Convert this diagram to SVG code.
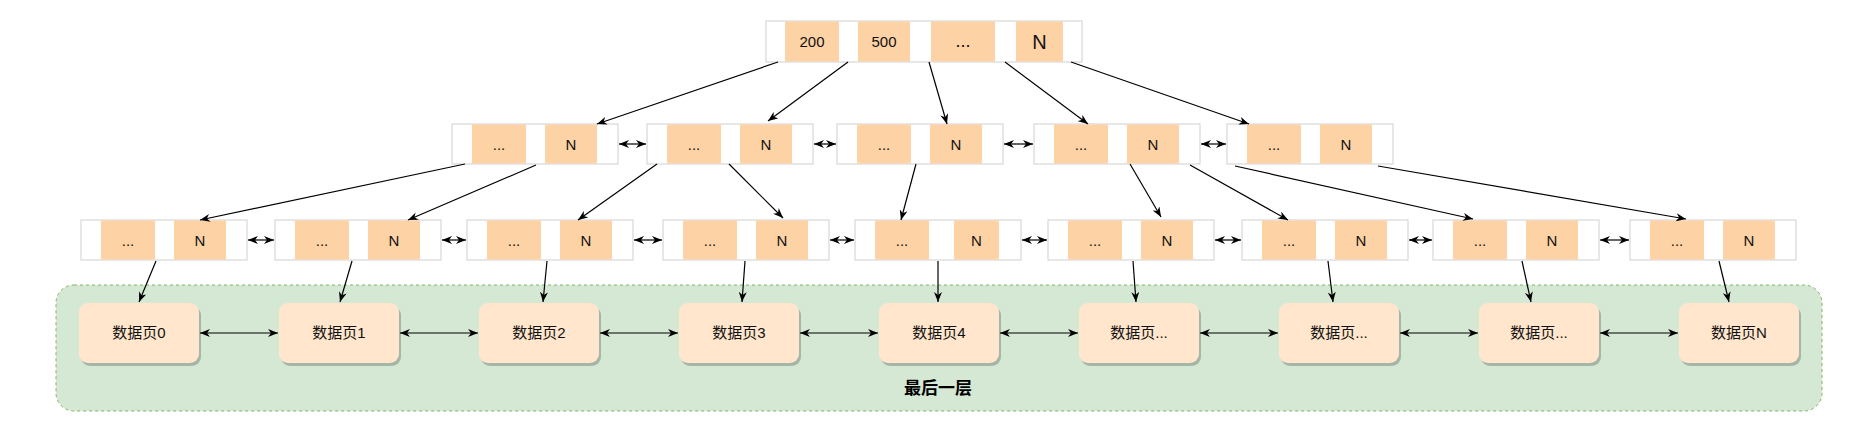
<svg xmlns="http://www.w3.org/2000/svg" width="1861" height="447" viewBox="0 0 1861 447">
<style>
.box{fill:#ffffff;stroke:#cfcfcf;stroke-width:1}
.cell{fill:#fdd2a4;stroke:none}
.t{font-family:"Liberation Sans","Noto Sans CJK SC",sans-serif;font-size:15px;fill:#111;text-anchor:middle}
.big{font-size:20px}
.dots{font-size:18px}
.page{fill:#ffe6cc;stroke:none}
.shadow{fill:#000;opacity:0.22}
.c{fill:none;stroke:#000;stroke-width:1.2}
.one{marker-end:url(#ah)}
.two{marker-start:url(#ah);marker-end:url(#ah)}
.lbl{font-family:"Liberation Sans","Noto Sans CJK SC",sans-serif;font-size:17px;font-weight:bold;fill:#000;text-anchor:middle}
</style>
<defs>
<marker id="ah" viewBox="0 0 10 8" refX="10" refY="4" markerWidth="10" markerHeight="8" markerUnits="userSpaceOnUse" orient="auto-start-reverse">
<path d="M0,0 L10,4 L0,8 L3,4 z" fill="#000"/>
</marker>
</defs>
<rect width="1861" height="447" fill="#ffffff"/>

<g id="container">
<rect x="56" y="285" width="1766" height="126" rx="18" fill="#d5e8d4" stroke="#82b366" stroke-width="1" stroke-dasharray="3 3"/>
<text class="lbl" x="938" y="394">最后一层</text>
</g>

<g id="root">
<rect class="box" x="766" y="21" width="316" height="41"/>
<rect class="cell" x="785" y="21.5" width="54" height="40"/>
<rect class="cell" x="858" y="21.5" width="52" height="40"/>
<rect class="cell" x="931" y="21.5" width="64" height="40"/>
<rect class="cell" x="1016" y="21.5" width="47" height="40"/>
<text class="t" x="812" y="47">200</text>
<text class="t" x="884" y="47">500</text>
<text class="t dots" x="963" y="47">...</text>
<text class="t big" x="1039.5" y="48.5">N</text>
</g>

<g id="l2n1">
<rect class="box" x="452" y="124" width="166" height="40"/>
<rect class="cell" x="472" y="124.5" width="54" height="39"/>
<rect class="cell" x="545" y="124.5" width="52" height="39"/>
<text class="t" x="499" y="149.5">...</text>
<text class="t" x="571" y="149.5">N</text>
</g>
<g id="l2n2">
<rect class="box" x="647" y="124" width="166" height="40"/>
<rect class="cell" x="667" y="124.5" width="54" height="39"/>
<rect class="cell" x="740" y="124.5" width="52" height="39"/>
<text class="t" x="694" y="149.5">...</text>
<text class="t" x="766" y="149.5">N</text>
</g>
<g id="l2n3">
<rect class="box" x="837" y="124" width="166" height="40"/>
<rect class="cell" x="857" y="124.5" width="54" height="39"/>
<rect class="cell" x="930" y="124.5" width="52" height="39"/>
<text class="t" x="884" y="149.5">...</text>
<text class="t" x="956" y="149.5">N</text>
</g>
<g id="l2n4">
<rect class="box" x="1034" y="124" width="166" height="40"/>
<rect class="cell" x="1054" y="124.5" width="54" height="39"/>
<rect class="cell" x="1127" y="124.5" width="52" height="39"/>
<text class="t" x="1081" y="149.5">...</text>
<text class="t" x="1153" y="149.5">N</text>
</g>
<g id="l2n5">
<rect class="box" x="1227" y="124" width="166" height="40"/>
<rect class="cell" x="1247" y="124.5" width="54" height="39"/>
<rect class="cell" x="1320" y="124.5" width="52" height="39"/>
<text class="t" x="1274" y="149.5">...</text>
<text class="t" x="1346" y="149.5">N</text>
</g>

<g id="l3n1">
<rect class="box" x="81" y="220" width="166" height="40"/>
<rect class="cell" x="101" y="220.5" width="54" height="39"/>
<rect class="cell" x="174" y="220.5" width="52" height="39"/>
<text class="t" x="128" y="245.5">...</text>
<text class="t" x="200" y="245.5">N</text>
</g>
<g id="l3n2">
<rect class="box" x="275" y="220" width="166" height="40"/>
<rect class="cell" x="295" y="220.5" width="54" height="39"/>
<rect class="cell" x="368" y="220.5" width="52" height="39"/>
<text class="t" x="322" y="245.5">...</text>
<text class="t" x="394" y="245.5">N</text>
</g>
<g id="l3n3">
<rect class="box" x="467" y="220" width="166" height="40"/>
<rect class="cell" x="487" y="220.5" width="54" height="39"/>
<rect class="cell" x="560" y="220.5" width="52" height="39"/>
<text class="t" x="514" y="245.5">...</text>
<text class="t" x="586" y="245.5">N</text>
</g>
<g id="l3n4">
<rect class="box" x="663" y="220" width="166" height="40"/>
<rect class="cell" x="683" y="220.5" width="54" height="39"/>
<rect class="cell" x="756" y="220.5" width="52" height="39"/>
<text class="t" x="710" y="245.5">...</text>
<text class="t" x="782" y="245.5">N</text>
</g>
<g id="l3n5">
<rect class="box" x="855" y="220" width="166" height="40"/>
<rect class="cell" x="875" y="220.5" width="54" height="39"/>
<rect class="cell" x="954" y="220.5" width="45" height="39"/>
<text class="t" x="902" y="245.5">...</text>
<text class="t" x="976.5" y="245.5">N</text>
</g>
<g id="l3n6">
<rect class="box" x="1048" y="220" width="166" height="40"/>
<rect class="cell" x="1068" y="220.5" width="54" height="39"/>
<rect class="cell" x="1141" y="220.5" width="52" height="39"/>
<text class="t" x="1095" y="245.5">...</text>
<text class="t" x="1167" y="245.5">N</text>
</g>
<g id="l3n7">
<rect class="box" x="1242" y="220" width="166" height="40"/>
<rect class="cell" x="1262" y="220.5" width="54" height="39"/>
<rect class="cell" x="1335" y="220.5" width="52" height="39"/>
<text class="t" x="1289" y="245.5">...</text>
<text class="t" x="1361" y="245.5">N</text>
</g>
<g id="l3n8">
<rect class="box" x="1433" y="220" width="166" height="40"/>
<rect class="cell" x="1453" y="220.5" width="54" height="39"/>
<rect class="cell" x="1526" y="220.5" width="52" height="39"/>
<text class="t" x="1480" y="245.5">...</text>
<text class="t" x="1552" y="245.5">N</text>
</g>
<g id="l3n9">
<rect class="box" x="1630" y="220" width="166" height="40"/>
<rect class="cell" x="1650" y="220.5" width="54" height="39"/>
<rect class="cell" x="1723" y="220.5" width="52" height="39"/>
<text class="t" x="1677" y="245.5">...</text>
<text class="t" x="1749" y="245.5">N</text>
</g>

<g id="page0"><rect class="shadow" x="81" y="306" width="120" height="60" rx="9"/><rect class="page" x="79" y="303" width="120" height="60" rx="9"/><text class="t" x="139" y="338">数据页0</text></g>
<g id="page1"><rect class="shadow" x="281" y="306" width="120" height="60" rx="9"/><rect class="page" x="279" y="303" width="120" height="60" rx="9"/><text class="t" x="339" y="338">数据页1</text></g>
<g id="page2"><rect class="shadow" x="481" y="306" width="120" height="60" rx="9"/><rect class="page" x="479" y="303" width="120" height="60" rx="9"/><text class="t" x="539" y="338">数据页2</text></g>
<g id="page3"><rect class="shadow" x="681" y="306" width="120" height="60" rx="9"/><rect class="page" x="679" y="303" width="120" height="60" rx="9"/><text class="t" x="739" y="338">数据页3</text></g>
<g id="page4"><rect class="shadow" x="881" y="306" width="120" height="60" rx="9"/><rect class="page" x="879" y="303" width="120" height="60" rx="9"/><text class="t" x="939" y="338">数据页4</text></g>
<g id="page5"><rect class="shadow" x="1081" y="306" width="120" height="60" rx="9"/><rect class="page" x="1079" y="303" width="120" height="60" rx="9"/><text class="t" x="1139" y="338">数据页...</text></g>
<g id="page6"><rect class="shadow" x="1281" y="306" width="120" height="60" rx="9"/><rect class="page" x="1279" y="303" width="120" height="60" rx="9"/><text class="t" x="1339" y="338">数据页...</text></g>
<g id="page7"><rect class="shadow" x="1481" y="306" width="120" height="60" rx="9"/><rect class="page" x="1479" y="303" width="120" height="60" rx="9"/><text class="t" x="1539" y="338">数据页...</text></g>
<g id="page8"><rect class="shadow" x="1681" y="306" width="120" height="60" rx="9"/><rect class="page" x="1679" y="303" width="120" height="60" rx="9"/><text class="t" x="1739" y="338">数据页N</text></g>

<g id="connectors">
<!-- root to level 2 -->
<path class="c one" d="M778,62 L597,124"/>
<path class="c one" d="M848,62 L768,121"/>
<path class="c one" d="M929,62 L947,124"/>
<path class="c one" d="M1005,62 L1088,124"/>
<path class="c one" d="M1071,62 L1249,124"/>
<!-- level 2 siblings -->
<path class="c two" d="M619,144 L646,144"/>
<path class="c two" d="M814,144 L836,144"/>
<path class="c two" d="M1004,144 L1033,144"/>
<path class="c two" d="M1201,144 L1226,144"/>
<!-- level 2 to level 3 -->
<path class="c one" d="M465,164 L200,220"/>
<path class="c one" d="M536,165 L408,220"/>
<path class="c one" d="M657,164 L578,220"/>
<path class="c one" d="M729,164 L783,218"/>
<path class="c one" d="M916,164 L901,220"/>
<path class="c one" d="M1130,164 L1161,217"/>
<path class="c one" d="M1190,165 L1288,220"/>
<path class="c one" d="M1235,166 L1473,219"/>
<path class="c one" d="M1378,166 L1686,219"/>
<!-- level 3 siblings -->
<path class="c two" d="M248,240 L274,240"/>
<path class="c two" d="M442,240 L466,240"/>
<path class="c two" d="M634,240 L662,240"/>
<path class="c two" d="M830,240 L854,240"/>
<path class="c two" d="M1022,240 L1047,240"/>
<path class="c two" d="M1215,240 L1241,240"/>
<path class="c two" d="M1409,240 L1432,240"/>
<path class="c two" d="M1600,240 L1629,240"/>
<!-- level 3 to data pages -->
<path class="c one" d="M156,261 L139,302"/>
<path class="c one" d="M352,261 L340,302"/>
<path class="c one" d="M547,261 L543,302"/>
<path class="c one" d="M745,261 L742,302"/>
<path class="c one" d="M938,261 L938,302"/>
<path class="c one" d="M1133,261 L1136,302"/>
<path class="c one" d="M1328,261 L1333,302"/>
<path class="c one" d="M1522,261 L1531,302"/>
<path class="c one" d="M1719,261 L1729,302"/>
<!-- data page siblings -->
<path class="c two" d="M200,333 L278,333"/>
<path class="c two" d="M400,333 L478,333"/>
<path class="c two" d="M600,333 L678,333"/>
<path class="c two" d="M800,333 L878,333"/>
<path class="c two" d="M1000,333 L1078,333"/>
<path class="c two" d="M1200,333 L1278,333"/>
<path class="c two" d="M1400,333 L1478,333"/>
<path class="c two" d="M1600,333 L1678,333"/>
</g>
</svg>
